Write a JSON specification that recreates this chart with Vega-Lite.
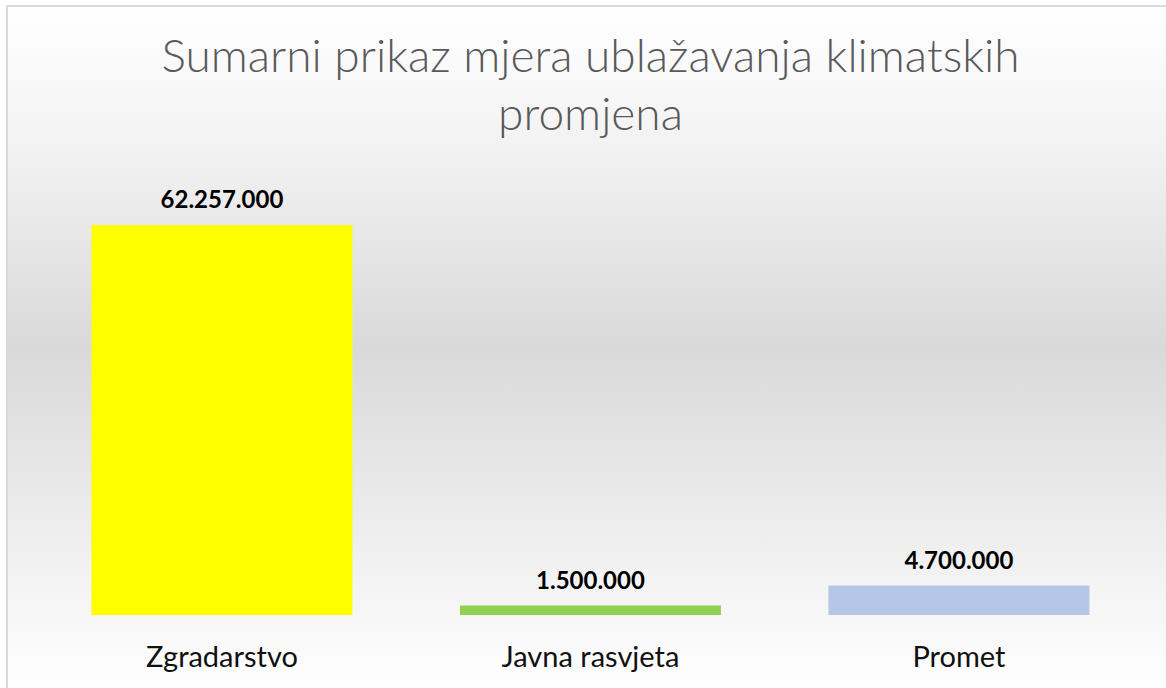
{
  "$schema": "https://vega.github.io/schema/vega-lite/v6.json",
  "width": 1166,
  "height": 688,
  "autosize": {"type": "fit", "contains": "padding"},
  "padding": {"left": 7, "top": 6, "right": -2, "bottom": -2},
  "background": "#ffffff",
  "title": {
    "text": ["Sumarni prikaz mjera ublažavanja klimatskih", "promjena"],
    "font": "Lato",
    "fontWeight": 300,
    "fontSize": 46,
    "color": "#595959",
    "anchor": "middle",
    "baseline": "top",
    "lineHeight": 58,
    "offset": -134,
    "dx": 3
  },
  "config": {
    "view": {
      "stroke": "#d9d9d9",
      "strokeWidth": 2,
      "fill": {
        "gradient": "linear",
        "x1": 0, "y1": 0, "x2": 0, "y2": 1,
        "stops": [
          {"offset": 0, "color": "#ffffff"},
          {"offset": 0.21, "color": "#f2f2f2"},
          {"offset": 0.5, "color": "#d9d9d9"},
          {"offset": 0.8, "color": "#f0f0f0"},
          {"offset": 1, "color": "#ffffff"}
        ]
      }
    }
  },
  "data": {
    "values": [
      {"kategorija": "Zgradarstvo", "iznos": 62257000, "oznaka": "62.257.000"},
      {"kategorija": "Javna rasvjeta", "iznos": 1500000, "oznaka": "1.500.000"},
      {"kategorija": "Promet", "iznos": 4700000, "oznaka": "4.700.000"}
    ]
  },
  "encoding": {
    "x": {
      "field": "kategorija",
      "type": "nominal",
      "sort": null,
      "scale": {"paddingInner": 0.2917, "paddingOuter": 0.2212, "align": 0.518},
      "axis": {
        "title": null,
        "orient": "bottom",
        "offset": -33,
        "ticks": false,
        "domain": false,
        "grid": false,
        "labelAngle": 0,
        "labelPadding": 0,
        "labelBaseline": "middle",
        "labelFont": "Lato",
        "labelFontSize": 29,
        "labelColor": "#111111"
      }
    },
    "y": {
      "field": "iznos",
      "type": "quantitative",
      "scale": {"domain": [-11970000, 97200000], "nice": false, "zero": false},
      "axis": null
    }
  },
  "layer": [
    {
      "mark": {"type": "bar"},
      "encoding": {
        "y2": {"datum": 0},
        "color": {
          "field": "kategorija",
          "type": "nominal",
          "sort": null,
          "scale": {"domain": ["Zgradarstvo", "Javna rasvjeta", "Promet"], "range": ["#ffff00", "#92d050", "#b4c7e7"]},
          "legend": null
        }
      }
    },
    {
      "mark": {"type": "text", "font": "Lato", "fontWeight": "bold", "fontSize": 24, "color": "#000000", "baseline": "alphabetic", "dy": -17},
      "encoding": {"text": {"field": "oznaka"}}
    }
  ]
}
